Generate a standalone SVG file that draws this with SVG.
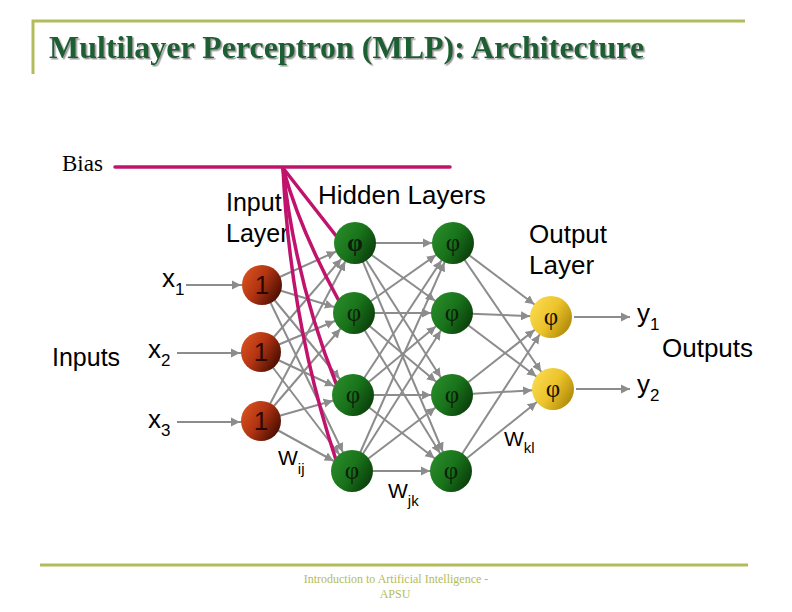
<svg xmlns="http://www.w3.org/2000/svg" width="792" height="612" viewBox="0 0 792 612">
<style>
.frame{stroke:#B3BC5C;stroke-width:3;fill:none}
.title{font-family:"Liberation Serif","Times New Roman",serif;font-weight:bold;font-size:32px;fill:#1B5E33}
.foot{font-family:"Liberation Serif","Times New Roman",serif;font-size:12px;fill:#B3BC5C;text-anchor:middle}
.lbl{font-family:"Liberation Sans",Arial,sans-serif;font-size:26px;fill:#000}
.sub{font-size:17px}
.w{font-family:"Liberation Sans",Arial,sans-serif;font-size:21px;fill:#000}
.ws{font-size:15px}
.one{font-family:"Liberation Sans",Arial,sans-serif;font-size:26px;fill:#2A0800;text-anchor:middle}
.phi{font-family:"Liberation Serif","Times New Roman",serif;font-size:25px;fill:#0D1F0A;text-anchor:middle}
.phiy{font-family:"Liberation Serif","Times New Roman",serif;font-size:25px;fill:#1A1200;text-anchor:middle}
.c line{stroke:#8C8C8C;stroke-width:2;marker-end:url(#a)}
.bias{stroke:#C0146C;stroke-width:3.5;fill:none;stroke-linecap:round}
</style>
<defs>
<linearGradient id="gr" x1="0" y1="0.2" x2="1" y2="0.8">
<stop offset="0" stop-color="#D9521F"/><stop offset="0.45" stop-color="#B23412"/><stop offset="1" stop-color="#3E0900"/>
</linearGradient>
<linearGradient id="gg" x1="0" y1="0.2" x2="1" y2="0.8">
<stop offset="0" stop-color="#2A8C2A"/><stop offset="0.5" stop-color="#18721A"/><stop offset="1" stop-color="#093809"/>
</linearGradient>
<linearGradient id="gy" x1="0" y1="0.2" x2="1" y2="0.8">
<stop offset="0" stop-color="#FADC50"/><stop offset="0.5" stop-color="#EBC22A"/><stop offset="1" stop-color="#A98406"/>
</linearGradient>
<marker id="a" viewBox="-30 -5 30 10" markerWidth="30" markerHeight="10" refX="0" refY="0" orient="auto" markerUnits="userSpaceOnUse">
<path d="M-30,-4.5 L-21,0 L-30,4.5 z" fill="#8C8C8C"/>
</marker>
<marker id="t" viewBox="-10 -5 10 10" markerWidth="10" markerHeight="10" refX="0" refY="0" orient="auto" markerUnits="userSpaceOnUse">
<path d="M-9,-4.5 L0,0 L-9,4.5 z" fill="#8C8C8C"/>
</marker>
<filter id="sh" x="-5%" y="-20%" width="110%" height="150%">
<feDropShadow dx="1.5" dy="1.5" stdDeviation="0.6" flood-color="#9A9A9A"/>
</filter>
</defs>
<rect width="792" height="612" fill="#FFFFFF"/>

<g id="frame">
<path class="frame" d="M33,74 V21 H745"/>
<line class="frame" x1="40" y1="565" x2="748" y2="565"/>
</g>
<g id="title"><text class="title" x="49" y="58" filter="url(#sh)">Multilayer Perceptron (MLP): Architecture</text></g>
<g id="footer">
<text class="foot" x="396" y="583">Introduction to Artificial Intelligence -</text>
<text class="foot" x="395" y="598">APSU</text>
</g>

<g id="labels">
<text x="62" y="171" style="font-family:'Liberation Serif','Times New Roman',serif;font-size:23px">Bias</text>
<text class="lbl" x="226" y="211" style="font-size:25px">Input</text>
<text class="lbl" x="226" y="242" style="font-size:25px">Layer</text>
<text class="lbl" x="318" y="204">Hidden Layers</text>
<text class="lbl" x="529" y="243">Output</text>
<text class="lbl" x="529" y="274">Layer</text>
<text class="lbl" x="52" y="366" style="font-size:25px">Inputs</text>
<text class="lbl" x="662" y="357">Outputs</text>
<text class="lbl" x="162" y="287">x<tspan class="sub" dy="8">1</tspan></text>
<text class="lbl" x="148" y="358">x<tspan class="sub" dy="8">2</tspan></text>
<text class="lbl" x="148" y="428">x<tspan class="sub" dy="8">3</tspan></text>
<text class="lbl" x="637" y="322">y<tspan class="sub" dy="8">1</tspan></text>
<text class="lbl" x="637" y="393">y<tspan class="sub" dy="8">2</tspan></text>
<text class="w" x="278" y="465">W<tspan class="ws" dy="9">ij</tspan></text>
<text class="w" x="388" y="498">W<tspan class="ws" dy="8">jk</tspan></text>
<text class="w" x="504" y="446">W<tspan class="ws" dy="7">kl</tspan></text>
</g>

<g id="connectors" class="c">
<line x1="186" y1="285" x2="262" y2="285"/>
<line x1="177" y1="353" x2="261" y2="353"/>
<line x1="177" y1="422" x2="261" y2="422"/>

<line x1="262" y1="285" x2="355" y2="243"/>
<line x1="262" y1="285" x2="354" y2="313"/>
<line x1="262" y1="285" x2="353" y2="395"/>
<line x1="262" y1="285" x2="352" y2="471"/>
<line x1="261" y1="352" x2="355" y2="243"/>
<line x1="261" y1="352" x2="354" y2="313"/>
<line x1="261" y1="352" x2="353" y2="395"/>
<line x1="261" y1="352" x2="352" y2="471"/>
<line x1="261" y1="421" x2="355" y2="243"/>
<line x1="261" y1="421" x2="354" y2="313"/>
<line x1="261" y1="421" x2="353" y2="395"/>
<line x1="261" y1="421" x2="352" y2="471"/>

<line x1="355" y1="243" x2="453" y2="243"/>
<line x1="355" y1="243" x2="452" y2="313"/>
<line x1="355" y1="243" x2="452" y2="395"/>
<line x1="355" y1="243" x2="451" y2="471"/>
<line x1="354" y1="313" x2="453" y2="243"/>
<line x1="354" y1="313" x2="452" y2="313"/>
<line x1="354" y1="313" x2="452" y2="395"/>
<line x1="354" y1="313" x2="451" y2="471"/>
<line x1="353" y1="395" x2="453" y2="243"/>
<line x1="353" y1="395" x2="452" y2="313"/>
<line x1="353" y1="395" x2="452" y2="395"/>
<line x1="353" y1="395" x2="451" y2="471"/>
<line x1="352" y1="471" x2="453" y2="243"/>
<line x1="352" y1="471" x2="452" y2="313"/>
<line x1="352" y1="471" x2="452" y2="395"/>
<line x1="352" y1="471" x2="451" y2="471"/>

<line x1="453" y1="243" x2="551" y2="317"/>
<line x1="453" y1="243" x2="553" y2="389"/>
<line x1="452" y1="313" x2="551" y2="317"/>
<line x1="452" y1="313" x2="553" y2="389"/>
<line x1="452" y1="395" x2="551" y2="317"/>
<line x1="452" y1="395" x2="553" y2="389"/>
<line x1="451" y1="471" x2="551" y2="317"/>
<line x1="451" y1="471" x2="553" y2="389"/>

<line x1="574" y1="317" x2="630" y2="317" style="marker-end:url(#t)"/>
<line x1="576" y1="389" x2="630" y2="389" style="marker-end:url(#t)"/>
</g>

<g id="bias">
<line class="bias" x1="115" y1="167" x2="450" y2="167"/>
<path class="bias" d="M283,168 L337,237"/>
<path class="bias" d="M283,168 Q300,230 339,301"/>
<path class="bias" d="M283,168 Q295,280 337,386"/>
<path class="bias" d="M283,168 Q290,320 336,460"/>
</g>

<g id="in1"><circle cx="262" cy="285" r="20" fill="url(#gr)"/><text class="one" x="262" y="294">1</text></g>
<g id="in2"><circle cx="261" cy="352" r="20" fill="url(#gr)"/><text class="one" x="261" y="361">1</text></g>
<g id="in3"><circle cx="261" cy="421" r="20" fill="url(#gr)"/><text class="one" x="261" y="430">1</text></g>

<g id="h11"><circle cx="355" cy="243" r="21" fill="url(#gg)"/><text class="phi" x="355" y="251" font-weight="bold">φ</text></g>
<g id="h12"><circle cx="354" cy="313" r="21" fill="url(#gg)"/><text class="phi" x="354" y="321">φ</text></g>
<g id="h13"><circle cx="353" cy="395" r="21" fill="url(#gg)"/><text class="phi" x="353" y="403">φ</text></g>
<g id="h14"><circle cx="352" cy="471" r="21" fill="url(#gg)"/><text class="phi" x="352" y="479">φ</text></g>

<g id="h21"><circle cx="453" cy="243" r="21" fill="url(#gg)"/><text class="phi" x="453" y="251">φ</text></g>
<g id="h22"><circle cx="452" cy="313" r="21" fill="url(#gg)"/><text class="phi" x="452" y="321">φ</text></g>
<g id="h23"><circle cx="452" cy="395" r="21" fill="url(#gg)"/><text class="phi" x="452" y="403">φ</text></g>
<g id="h24"><circle cx="451" cy="471" r="21" fill="url(#gg)"/><text class="phi" x="451" y="479">φ</text></g>

<g id="out1"><circle cx="551" cy="317" r="21" fill="url(#gy)"/><text class="phiy" x="551" y="325">φ</text></g>
<g id="out2"><circle cx="553" cy="389" r="21" fill="url(#gy)"/><text class="phiy" x="553" y="397">φ</text></g>
</svg>
